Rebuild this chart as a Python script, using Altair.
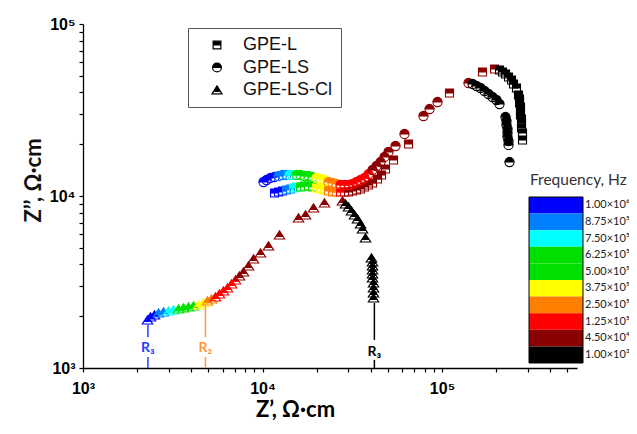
import altair as alt
import pandas as pd

# ---------------- data ----------------
series_names = ["GPE-L", "GPE-LS", "GPE-LS-Cl"]

# GPE-L (squares)
l_x = [11670, 12280, 12920, 13600, 14320, 14880, 15470, 16280, 17140, 18040, 18990,
       19990, 21040, 22150, 23310, 24550, 25840, 27200, 28620,
       30140, 31720, 33390, 35160, 37000, 38950, 41010, 43730, 46030, 48440, 53690,
       65070, 110100, 168100, 196200,
       209100, 217300, 225800, 234700, 243900, 250200, 260000,
       266800, 270300, 270300, 273700, 273700, 273700, 277300, 277300, 277300, 280900, 280900]
l_y = [10410, 10550, 10690, 10840, 10980, 11130, 11280, 11280, 11430, 11430, 11280,
       11130, 10980, 10840, 10690, 10550, 10550, 10550, 10550,
       10550, 10690, 10840, 10980, 11280, 11590, 11900, 12560, 13250, 14350, 16190,
       20060, 39700, 52590, 54750,
       54020, 52590, 51200, 49190, 47250, 44800, 42450,
       38660, 36640, 34740, 32920, 31210, 29580, 28030, 26570, 24850, 23240, 21160]
l_f = [1.0e6, 9.5e5, 9.0e5, 8.5e5, 8.0e5, 7.2e5, 6.6e5, 6.0e5, 5.4e5, 4.7e5, 4.0e5,
       3.6e5, 3.1e5, 2.6e5, 2.3e5, 1.8e5, 1.4e5, 1.2e5, 1.0e5,
       4.0e4, 3.4e4, 2.9e4, 2.4e4, 2.0e4, 1.6e4, 1.3e4, 1.0e4, 8.0e3, 6.0e3, 4.5e3,
       3.5e3, 2.5e3, 1.8e3, 1.2e3,
       900, 700, 500, 350, 250, 180, 120, 80, 50, 30, 20, 13, 8, 5, 3, 2, 1.5, 1.0]

# GPE-LS (circles)
ls_x = [10130, 10530, 11080, 11670, 12280, 12920, 13600, 14140, 14690,
        15470, 16280, 17140, 18040, 18990, 19990, 21040, 22150, 23310, 24550, 25840,
        27200, 28620, 30140, 31720, 33390, 35160, 37000, 38950,
        41010, 43170, 45440, 47840, 50340, 55070, 61820, 78870, 85200, 94400, 140500,
        147900, 155700, 163900, 172500, 181600, 191100, 201200, 209100,
        225800, 228700, 228700, 231700, 231700, 231700, 234700, 234700, 237700]
ls_y = [12060, 12390, 12730, 12900, 13070, 13250, 13250, 13250, 13250,
        13250, 13250, 13070, 13070, 12900, 12730, 12560, 12390, 12060, 11900, 11750,
        11590, 11590, 11590, 11750, 12060, 12390, 12730, 13420,
        14170, 14940, 15760, 16860, 18030, 19530, 22940, 29180, 32040, 35200, 45400,
        44800, 43600, 42450, 40780, 39170, 37630, 36150, 34270,
        28800, 27290, 25870, 24520, 23240, 22030, 20880, 19800, 15760]
ls_f = [1.0e6, 9.6e5, 9.2e5, 8.8e5, 8.6e5, 8.2e5, 7.8e5, 7.3e5, 6.8e5,
        6.1e5, 5.6e5, 5.1e5, 4.5e5, 4.0e5, 3.6e5, 3.1e5, 2.6e5, 2.3e5, 1.8e5, 1.4e5,
        1.2e5, 1.05e5, 9.0e4, 8.0e4, 7.0e4, 6.0e4, 5.2e4, 4.7e4,
        4.0e4, 3.2e4, 2.5e4, 2.0e4, 1.6e4, 1.2e4, 8.0e3, 5.0e3, 3.5e3, 2.2e3, 1.5e3,
        900, 700, 500, 350, 250, 180, 120, 80, 50, 30, 20, 13, 8, 5, 3, 2, 1.0]

# GPE-LS-Cl (triangles)
cl_x = [2287, 2377, 2502, 2634, 2809, 2995, 3193, 3405, 3630, 3870, 4127, 4400, 4692,
        4939, 5199, 5473, 5760, 6064, 6383, 6720, 7073,
        7445, 7838, 8356, 8911, 9748, 10800, 12440, 15870, 17360, 19240, 22150, 27900,
        29000, 30140, 31320, 32540, 33820, 35160, 36070, 37480,
        40480, 41010, 41010, 41010, 41010, 41010, 41540, 41540, 41540, 41540]
cl_y = [1901, 1980, 2033, 2088, 2116, 2145, 2174, 2203, 2233, 2263, 2293, 2324, 2387,
        2452, 2518, 2587, 2693, 2803, 2918, 3078, 3248,
        3427, 3615, 3917, 4302, 4662, 5121, 5934, 7448, 7753, 8515, 9106, 9352,
        8985, 8630, 8180, 7753, 7349, 6874, 6430, 5700,
        4360, 4133, 3917, 3713, 3520, 3337, 3121, 2918, 2729, 2553]
cl_f = [1.0e6, 9.5e5, 9.0e5, 8.5e5, 8.0e5, 7.2e5, 6.6e5, 6.0e5, 5.4e5, 4.7e5, 4.0e5,
        3.5e5, 2.8e5, 2.2e5, 1.6e5, 1.2e5, 1.0e5, 8.5e4, 7.0e4, 6.0e4, 5.0e4,
        4.0e4, 3.2e4, 2.5e4, 2.0e4, 1.6e4, 1.2e4, 8.0e3, 5.0e3, 4.0e3, 3.0e3, 2.2e3, 1.5e3,
        900, 700, 500, 350, 250, 180, 120, 80, 50, 30, 20, 13, 8, 5, 3, 2, 1.5, 1.0]

# colour-bar labels (top to bottom) and thresholds (ascending)
cbar_labels = ["1.00×10⁶", "8.75×10⁵", "7.50×10⁵", "6.25×10⁵", "5.00×10⁵",
               "3.75×10⁵", "2.50×10⁵", "1.25×10⁵", "4.50×10⁴", "1.00×10³"]
thresholds = [1.0e3, 4.5e4, 1.25e5, 2.5e5, 3.75e5, 5.0e5, 6.25e5, 7.5e5, 8.75e5]

# annotation lines (R values)
r_labels = ["R₃", "R₂", "R₃"]
r_x = [2300, 4810, 42000]
r_top = [1800, 2320, 2390]
r_hi = [1510, 1510, 1455]
r_text = [1305, 1305, 1240]
r_lo = [1160, 1160, 1115]

# ---------------- styles ----------------
band_colors_top_down = ["#0000ff", "#0080ff", "#00ffff", "#00e000", "#00e000",
                        "#ffff00", "#ff8000", "#ff0000", "#8b0000", "#000000"]
r_colors = ["#2a3cff", "#ff9a3c", "#000000"]

# half-filled marker paths (top part filled, bottom part left open)
SQ = "M-1,-1 L1,-1 L1,1 L-1,1 Z M-1,0 L-1,1 L1,1 L1,0 Z"
CI = ("M-1.15,0 A1.15,1.15 0 1,1 1.15,0 A1.15,1.15 0 1,1 -1.15,0 Z "
      "M-1.15,0 A1.15,1.15 0 0,0 1.15,0 L-1.15,0 Z")
TR = "M0,-1.05 L1.3,1.0 L-1.3,1.0 Z M-0.88,0.35 L-1.3,1.0 L1.3,1.0 L0.88,0.35 Z"

frames = []
for name, xs, ys, fs in [("GPE-L", l_x, l_y, l_f), ("GPE-LS", ls_x, ls_y, ls_f),
                         ("GPE-LS-Cl", cl_x, cl_y, cl_f)]:
    frames.append(pd.DataFrame({"series": name, "zr": xs, "zi": ys, "freq": fs}))
df = pd.concat(frames, ignore_index=True)
df["order"] = range(len(df))

XDOM = [1000, 565000]
YDOM = [1000, 100000]
xs_ = alt.Scale(type="log", domain=XDOM, nice=False)
ys_ = alt.Scale(type="log", domain=YDOM, nice=False)

x_ticks = [m * 10 ** k for k in (3, 4) for m in range(1, 10)] + [100000, 200000, 300000, 400000, 500000]
y_ticks = [m * 10 ** k for k in (3, 4) for m in range(1, 10)] + [100000]
lab_expr = ("datum.value == 1000 ? '10³' : datum.value == 10000 ? '10⁴' : "
            "datum.value == 100000 ? '10⁵' : ''")

thr = alt.Scale(type="threshold", domain=thresholds, range=band_colors_top_down[::-1])

points = alt.Chart(df).mark_point(filled=True, strokeWidth=1.1, opacity=1, size=64).encode(
    x=alt.X("zr:Q", scale=xs_, axis=alt.Axis(
        values=x_ticks, labelExpr=lab_expr, title="Z’, Ω·cm", grid=False,
        tickSize=4, labelPadding=8, labelFont="Liberation Sans", labelFontWeight="bold",
        labelFontSize=16, labelColor="black", domainColor="black", tickColor="black",
        domainWidth=1.3, tickWidth=1.2, labelOverlap=False, labelFlush=False,
        titleFont="Lato", titleFontSize=22, titleFontWeight="bold", titleColor="black",
        titleX=212, titleY=41, titleBaseline="middle", titleAlign="center")),
    y=alt.Y("zi:Q", scale=ys_, axis=alt.Axis(
        values=y_ticks, labelExpr=lab_expr, title="Z’’, Ω·cm", grid=False,
        tickSize=4, labelPadding=4, labelFont="Liberation Sans", labelFontWeight="bold",
        labelFontSize=16, labelColor="black", domainColor="black", tickColor="black",
        domainWidth=1.3, tickWidth=1.2, labelOverlap=False, labelFlush=False,
        titleFont="Lato", titleFontSize=22, titleFontWeight="bold", titleColor="#111",
        titleX=-50, titleY=156, titleAngle=270, titleBaseline="middle", titleAlign="center")),
    shape=alt.Shape("series:N", scale=alt.Scale(domain=series_names, range=[SQ, CI, TR]),
                    legend=alt.Legend(orient="none", legendX=105, legendY=4, title=None,
                                      strokeColor="#555", fillColor="white", padding=8,
                                      rowPadding=4.5, labelFontSize=18, labelFont="Liberation Sans",
                                      labelColor="#111", symbolSize=60, symbolFillColor="black",
                                      symbolStrokeColor="black", symbolStrokeWidth=1.2,
                                      symbolOffset=12, labelOffset=17)),
    fill=alt.Fill("freq:Q", scale=thr, legend=None),
    stroke=alt.Stroke("freq:Q", scale=thr, legend=None),
    order=alt.Order("order:Q"),
)

layers = [points]
for i in range(len(r_labels)):
    d = pd.DataFrame({"x": [r_x[i]], "top": [r_top[i]], "hi": [r_hi[i]], "t": [r_text[i]],
                      "lo": [r_lo[i]], "bot": [1000], "lab": [r_labels[i]]})
    base = alt.Chart(d)
    layers.append(base.mark_rule(strokeWidth=1.5, color=r_colors[i]).encode(
        x=alt.X("x:Q", scale=xs_), y=alt.Y("top:Q", scale=ys_), y2="hi:Q"))
    layers.append(base.mark_rule(strokeWidth=1.5, color=r_colors[i]).encode(
        x=alt.X("x:Q", scale=xs_), y=alt.Y("lo:Q", scale=ys_), y2="bot:Q"))
    layers.append(base.mark_text(font="Lato", fontSize=14, fontWeight="bold",
                                 color=r_colors[i], baseline="middle", align="center").encode(
        x=alt.X("x:Q", scale=xs_), y=alt.Y("t:Q", scale=ys_), text="lab:N"))

main = alt.layer(*layers)

# colour bar (legend for frequency)
cb = pd.DataFrame({"label": cbar_labels})
cb_y = alt.Y("label:N", sort=cbar_labels,
             scale=alt.Scale(domain=cbar_labels, range=[173, 339], paddingInner=0, paddingOuter=0),
             axis=None)
cbar_rects = alt.Chart(cb).mark_rect().encode(
    y=cb_y, x=alt.value(446), x2=alt.value(500),
    fill=alt.Fill("label:N", scale=alt.Scale(domain=cbar_labels, range=band_colors_top_down), legend=None))
cbar_text = alt.Chart(cb).mark_text(align="left", baseline="middle", font="Lato",
                                    fontSize=11, color="#222").encode(
    y=cb_y, x=alt.value(502), text="label:N")
frame_df = pd.DataFrame({"k": [0]})
cbar_frame = alt.Chart(frame_df).mark_rect(fill="transparent", stroke="black", strokeWidth=1).encode(
    x=alt.value(446), x2=alt.value(500), y=alt.value(173), y2=alt.value(339))
cbar_title = alt.Chart(pd.DataFrame({"t": ["Frequency, Hz"]})).mark_text(
    align="left", baseline="middle", font="Lato", fontSize=15.5, color="#333").encode(
    x=alt.value(447), y=alt.value(156), text="t:N")
cbar = alt.layer(cbar_rects, cbar_frame, cbar_text, cbar_title)

chart = alt.layer(main, cbar).resolve_scale(
    y="independent", fill="independent", stroke="independent"
).properties(
    width=494, height=344,
    autosize=alt.AutoSizeParams(type="none"),
    padding={"left": 75, "top": 16, "right": 52, "bottom": 54},
).configure_view(stroke=None)

chart.save("out.html", embed_options={"renderer": "svg", "actions": False})
